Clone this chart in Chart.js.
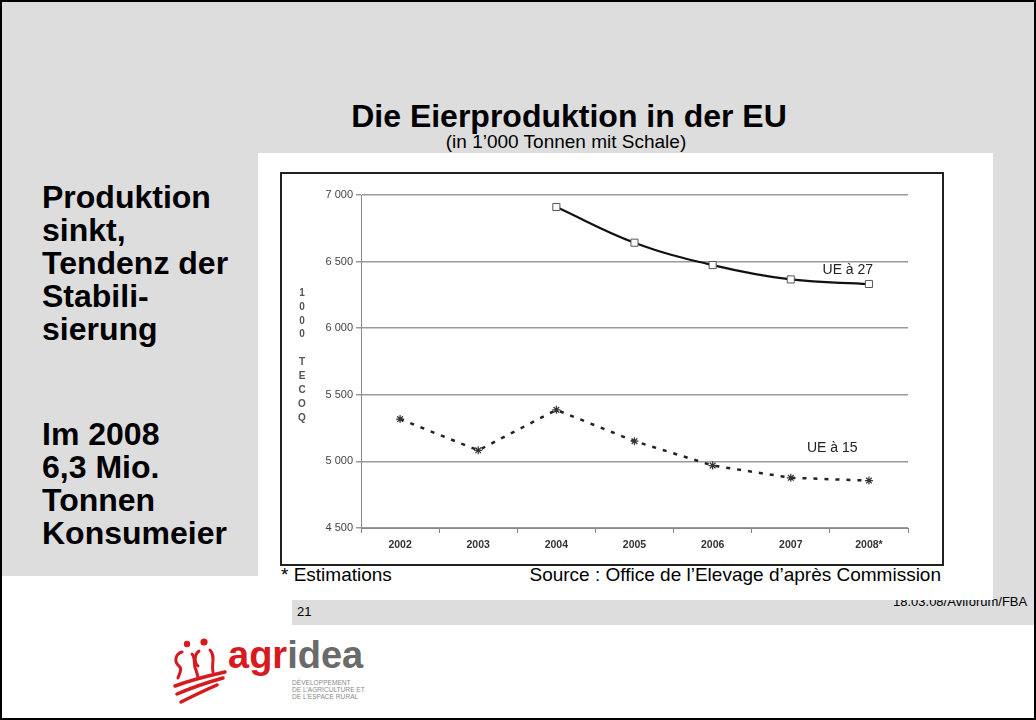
<!DOCTYPE html>
<html>
<head>
<meta charset="utf-8">
<script src="https://cdn.jsdelivr.net/npm/chart.js@4/dist/chart.umd.min.js"></script>
<style>
  html, body { margin: 0; padding: 0; }
  body { width: 1036px; height: 720px; position: relative; overflow: hidden; background: #fff; font-family: "Liberation Sans", Arial, sans-serif; }
  .grey { position: absolute; background: #dddddd; }
  .frame { position: absolute; left: 0; top: 0; width: 1036px; height: 720px; box-sizing: border-box; border: 2px solid #000; pointer-events: none; z-index: 10; }
  .txt { position: absolute; white-space: nowrap; color: #000; }
  #title { left: 0; width: 1138px; top: 98px; text-align: center; font-weight: bold; font-size: 32px; line-height: 36px; }
  #subtitle { left: 0; width: 1132px; top: 131px; text-align: center; font-size: 19px; line-height: 22px; }
  .side { left: 42px; font-weight: bold; font-size: 32px; line-height: 33px; }
  #whitebox { position: absolute; left: 258px; top: 153px; width: 735px; height: 447px; background: #fff; z-index: 2; }
  #chartbox { position: absolute; left: 22px; top: 19px; width: 664px; height: 394px; box-sizing: border-box; border: 2px solid #222; }
  #chartbox canvas { position: absolute; left: 0; top: 0; }
  #notes { position: absolute; left: 23px; top: 411px; width: 664px; font-size: 19px; line-height: 22px; color: #000; }
  #notes .r { position: absolute; right: 4px; top: 0; }
  #page { left: 297px; top: 604px; font-size: 13px; z-index: 3; }
  #stamp { left: 893px; top: 594px; font-size: 13px; z-index: 1; }
  #logo { position: absolute; left: 165px; top: 636px; width: 220px; height: 70px; }
  #logo .word { position: absolute; left: 63px; top: -3px; font-weight: bold; font-size: 38px; line-height: 44px; }
  #logo .small { position: absolute; left: 127px; top: 44px; font-size: 6.6px; line-height: 6.8px; color: #8a8a8a; }
</style>
</head>
<body>
<div class="grey" style="left:0;top:0;width:1036px;height:153px"></div>
<div class="grey" style="left:0;top:153px;width:258px;height:423px"></div>
<div class="grey" style="left:993px;top:153px;width:43px;height:472px"></div>
<div class="grey" style="left:292px;top:600px;width:744px;height:25px"></div>

<div class="txt" id="title">Die Eierproduktion in der EU</div>
<div class="txt" id="subtitle">(in 1’000 Tonnen mit Schale)</div>
<div class="txt side" style="top:181px">Produktion<br>sinkt,<br>Tendenz der<br>Stabili-<br>sierung</div>
<div class="txt side" style="top:418px">Im 2008<br>6,3 Mio.<br>Tonnen<br>Konsumeier</div>

<div id="whitebox">
  <div id="chartbox"><canvas id="eggChart" width="660" height="390"></canvas></div>
  <div id="notes"><span>* Estimations</span><span class="r">Source : Office de l’Elevage d’après Commission</span></div>
</div>

<div class="txt" id="page">21</div>
<div class="txt" id="stamp">18.03.08/Aviforum/FBA</div>

<div id="logo">
  <svg width="64" height="70" viewBox="0 0 64 70" style="position:absolute;left:0;top:0">
    <g fill="none" stroke="#d71920" stroke-linecap="round">
      <circle cx="22" cy="8" r="3.2" fill="#d71920" stroke="none"/>
      <circle cx="39" cy="6" r="3.6" fill="#d71920" stroke="none"/>
      <path d="M17 16 C10 18 9 26 14 30 C18 33 14 38 13 42" stroke-width="3"/>
      <path d="M27 18 C31 22 28 30 31 34 L33 41" stroke-width="3"/>
      <path d="M34 15 C28 20 30 28 33 30" stroke-width="3"/>
      <path d="M45 14 C51 20 46 28 48 36" stroke-width="3"/>
      <path d="M10 50 C26 44 42 40 60 36" stroke-width="3.5"/>
      <path d="M12 58 C26 52 40 47 58 42" stroke-width="3.5"/>
      <path d="M16 66 C28 60 38 55 52 49" stroke-width="3.5"/>
    </g>
  </svg>
  <div class="word"><span style="color:#d71920">agr</span><span style="color:#6a6a6a">idea</span></div>
  <div class="small">DÉVELOPPEMENT<br>DE L’AGRICULTURE ET<br>DE L’ESPACE RURAL</div>
</div>

<div class="frame"></div>

<script>
const years = ['2002', '2003', '2004', '2005', '2006', '2007', '2008*'];
const ue27 = [null, null, 6910, 6642, 6474, 6366, 6332];
const ue15 = [5318, 5083, 5387, 5152, 4969, 4877, 4856];
const yTicks = [4500, 5000, 5500, 6000, 6500, 7000];
const axisLetters = ['1', '0', '0', '0', '', 'T', 'E', 'C', 'O', 'Q'];

// formats 6500 as "6 500"
const fmt = v => String(v).replace(/\B(?=(\d{3})+(?!\d))/g, ' ');

const seriesLabels = {
    id: 'seriesLabels',
    afterDatasetsDraw(chart) {
        const { ctx, scales: { x, y } } = chart;
        ctx.save();
        ctx.fillStyle = '#222';
        ctx.font = '14px "Liberation Sans", Arial, sans-serif';
        ctx.textAlign = 'center';
        ctx.textBaseline = 'middle';
        ctx.fillText('UE à 27', x.getPixelForValue(5.73), y.getPixelForValue(6438));
        ctx.fillText('UE à 15', x.getPixelForValue(5.53), y.getPixelForValue(5100));

        // stacked axis caption
        ctx.fillStyle = '#555';
        ctx.font = 'bold 10px "Liberation Sans", Arial, sans-serif';
        axisLetters.forEach((ch, i) => ctx.fillText(ch, 20, 119 + i * 13.9));
        ctx.restore();
    }
};

new Chart(document.getElementById('eggChart'), {
    type: 'line',
    data: {
        labels: years,
        datasets: [{
            label: 'UE à 27',
            data: ue27,
            borderColor: '#111',
            borderWidth: 2.2,
            tension: 0.4,
            pointStyle: 'rect',
            pointRadius: 5,
            pointBorderWidth: 1,
            pointBorderColor: '#555',
            pointBackgroundColor: '#fff'
        }, {
            label: 'UE à 15',
            data: ue15,
            borderColor: '#222',
            borderWidth: 2.5,
            borderDash: [4, 7],
            tension: 0,
            pointStyle: 'star',
            pointRadius: 4,
            pointBorderWidth: 1.2,
            pointBorderColor: '#333',
            pointBackgroundColor: '#333'
        }]
    },
    options: {
        responsive: false,
        animation: false,
        layout: { padding: { left: 0, right: 34, top: 21, bottom: 0 } },
        plugins: {
            legend: { display: false },
            tooltip: { enabled: false }
        },
        scales: {
            x: {
                offset: true,
                grid: { offset: true, drawOnChartArea: false, tickLength: 5, color: '#888' },
                border: { color: '#888', width: 1 },
                ticks: { color: '#333', padding: 6, font: { size: 10.5, weight: 'bold', family: '"Liberation Sans", Arial, sans-serif' } },
                afterFit: s => { s.height = 36; }
            },
            y: {
                min: 4500,
                max: 7000,
                afterBuildTicks: s => { s.ticks = yTicks.map(v => ({ value: v })); },
                grid: { color: '#9a9a9a', lineWidth: 1.5, tickLength: 5 },
                border: { color: '#888', width: 1 },
                ticks: {
                    color: '#444',
                    padding: 3,
                    font: { size: 11, family: '"Liberation Sans", Arial, sans-serif' },
                    callback: v => fmt(v)
                },
                afterFit: s => { s.width = 79; }
            }
        }
    },
    plugins: [seriesLabels]
});
</script>
</body>
</html>
